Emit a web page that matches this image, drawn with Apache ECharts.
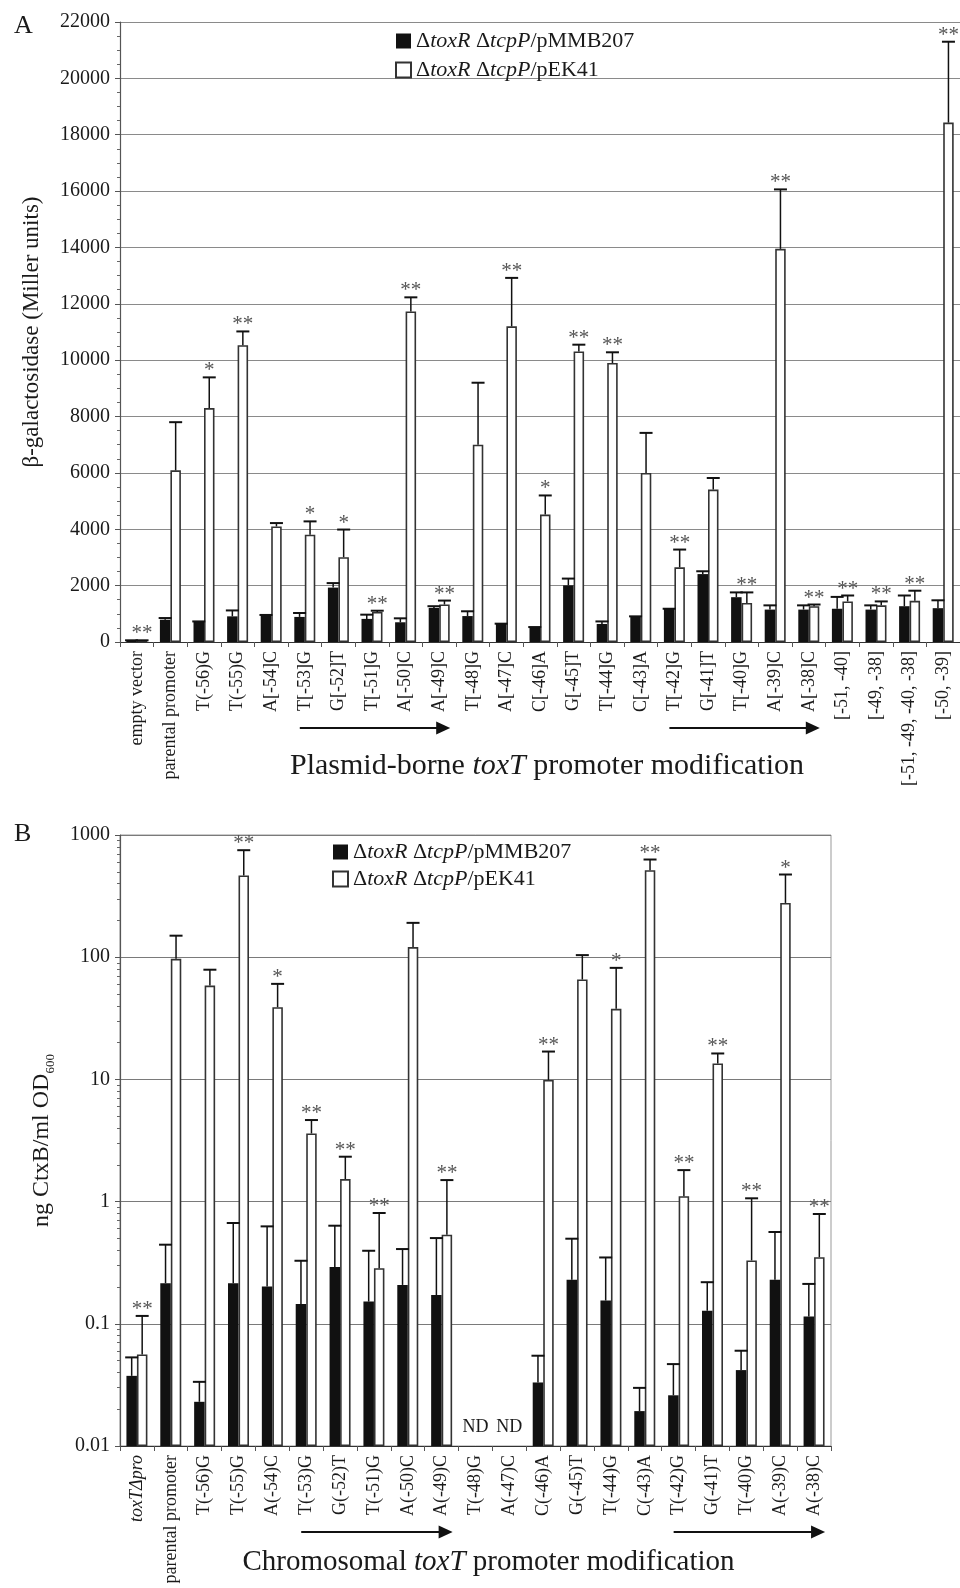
<!DOCTYPE html>
<html>
<head>
<meta charset="utf-8">
<script src="https://cdn.jsdelivr.net/npm/echarts@6/dist/echarts.min.js"></script>
<style>
html,body{margin:0;padding:0;background:#fff;}
#main{width:960px;height:1588px;}
</style>
</head>
<body>
<div id="main"></div>
<script>
// ---------- Panel A data (β-galactosidase, Miller units) ----------
const catsA = ['empty vector','parental promoter','T(-56)G','T(-55)G','A[-54]C','T[-53]G','G[-52]T','T[-51]G','A[-50]C','A[-49]C','T[-48]G','A[-47]C','C[-46]A','G[-45]T','T[-44]G','C[-43]A','T[-42]G','G[-41]T','T[-40]G','A[-39]C','A[-38]C','[-51, -40]','[-49, -38]','[-51, -49, -40, -38]','[-50, -39]'];
const aBlack    = [60, 790, 710, 910, 960, 890, 1930, 820, 700, 1210, 920, 650, 530, 2010, 640, 910, 1180, 2410, 1590, 1150, 1150, 1180, 1150, 1270, 1200];
const aBlackErr = [60, 850, 730, 1120, 960, 1030, 2090, 970, 840, 1270, 1090, 650, 530, 2250, 730, 910, 1180, 2510, 1760, 1300, 1300, 1600, 1300, 1650, 1480];
const aWhite    = [60, 6090, 8300, 10530, 4100, 3810, 3010, 1065, 11730, 1330, 7000, 11200, 4520, 10310, 9900, 6000, 2650, 5410, 1385, 13950, 1270, 1440, 1300, 1460, 18430];
const aWhiteErr = [60, 7800, 9390, 11020, 4220, 4280, 3990, 1110, 12230, 1470, 9200, 12920, 5200, 10550, 10280, 7420, 3280, 5820, 1760, 16060, 1330, 1650, 1440, 1820, 21300];
const aStars    = ['**','','*','**','','*','*','**','**','**','','**','*','**','**','','**','','**','**','**','**','**','**','**'];
const aTicks    = [0, 22000, 2000];

// ---------- Panel B data (ng CtxB/ml OD600) ----------
const catsB = ['toxTΔpro','parental promoter','T(-56)G','T(-55)G','A(-54)C','T(-53)G','G(-52)T','T(-51)G','A(-50)C','A(-49)C','T(-48)G','A(-47)C','C(-46)A','G(-45)T','T(-44)G','C(-43)A','T(-42)G','G(-41)T','T(-40)G','A(-39)C','A(-38)C'];
const bBlack    = [0.0375, 0.215, 0.023, 0.215, 0.202, 0.145, 0.291, 0.152, 0.208, 0.172, null, null, 0.0331, 0.229, 0.155, 0.0193, 0.026, 0.128, 0.0418, 0.229, 0.1146];
const bBlackErr = [0.0531, 0.444, 0.0335, 0.668, 0.627, 0.328, 0.635, 0.396, 0.409, 0.503, null, null, 0.0548, 0.497, 0.349, 0.0299, 0.0468, 0.219, 0.0602, 0.564, 0.212];
const bWhite    = [0.0562, 97, 58.6, 466, 39, 3.61, 1.53, 0.285, 121, 0.536, null, null, 9.9, 65.7, 37.8, 515, 1.106, 13.5, 0.33, 278, 0.351];
const bWhiteErr = [0.116, 150, 79, 751, 60.5, 4.65, 2.33, 0.807, 191, 1.5, null, null, 16.9, 104, 81.8, 630, 1.81, 16.3, 1.064, 475, 0.792];
const bStars    = ['**','','','**','*','**','**','**','','**','','','**','','*','**','**','**','**','*','**'];
const bNotDetected = ['','','','','','','','','','','ND','ND','','','','','','','','',''];
const bRange    = [0.01, 1000];

// arrow spans (category indices)
const arrowsA = [[5, 9], [16, 20]];
const arrowsB = [[5, 9], [16, 20]];

const FONT = '"Liberation Serif", "Times New Roman", "DejaVu Serif", serif';
const TXT = '#1a1a1a';
const BW = 10.5;

function errData(vals, errs) {
  const out = [];
  vals.forEach((v, i) => { if (v != null) out.push([i, v, errs[i]]); });
  return out;
}
function errRender(offset, stars) {
  return function (params, api) {
    const i = api.value(0);
    const base = api.coord([i, api.value(1)]);
    const top = api.coord([i, api.value(2)]);
    const x = base[0] + offset;
    const children = [
      {type: 'line', shape: {x1: x, y1: base[1], x2: x, y2: top[1]}, style: {stroke: '#111', lineWidth: 1.5}},
      {type: 'line', shape: {x1: x - 6.5, y1: top[1], x2: x + 6.5, y2: top[1]}, style: {stroke: '#111', lineWidth: 2}}
    ];
    if (stars && stars[i]) {
      children.push({type: 'text', style: {x: x, y: top[1] + 4, text: stars[i], align: 'center', verticalAlign: 'bottom',
        font: '21px ' + FONT, fill: '#555'}});
    }
    return {type: 'group', children: children};
  };
}
function ndRender(params, api) {
  const i = api.value(0);
  const p = api.coord([i, api.value(1)]);
  return {type: 'text', style: {x: p[0], y: p[1], text: bNotDetected[i], align: 'center', verticalAlign: 'middle',
    font: '18px ' + FONT, fill: TXT}};
}

const legendNames = {
  'pMMB207': '{n|Δ}{i|toxR}{n| Δ}{i|tcpP}{n|/pMMB207}',
  'pEK41': '{n|Δ}{i|toxR}{n| Δ}{i|tcpP}{n|/pEK41}'
};
const legendRich = {
  n: {fontFamily: FONT, fontSize: 22, color: TXT},
  i: {fontFamily: FONT, fontSize: 22, fontStyle: 'italic', color: TXT}
};
const blackStyle = {color: '#111'};
const whiteStyle = {color: '#fff', borderColor: '#333', borderWidth: 1.6};

const chart = echarts.init(document.getElementById('main'), null, {renderer: 'canvas'});

const option = {
  animation: false,
  backgroundColor: '#fff',
  title: [
    {text: 'A', left: 9, top: 8, textStyle: {fontFamily: FONT, fontSize: 26, fontWeight: 'normal', color: TXT}},
    {text: 'B', left: 9, top: 816, textStyle: {fontFamily: FONT, fontSize: 26, fontWeight: 'normal', color: TXT}}
  ],
  legend: [
    {left: 390, top: 25, orient: 'vertical', itemWidth: 15, itemHeight: 15, itemGap: 7, icon: 'rect', selectedMode: false,
     data: ['A pMMB207', 'A pEK41'], formatter: n => legendNames[n.split(' ')[1]], textStyle: {rich: legendRich}},
    {left: 327, top: 836, orient: 'vertical', itemWidth: 15, itemHeight: 15, itemGap: 5, icon: 'rect', selectedMode: false,
     data: ['B pMMB207', 'B pEK41'], formatter: n => legendNames[n.split(' ')[1]], textStyle: {rich: legendRich}}
  ],
  grid: [
    {left: 120, top: 22, width: 840, height: 620, show: false, outerBoundsMode: 'none', containLabel: false},
    {left: 120, top: 835, width: 711, height: 611, show: true, borderColor: '#999', borderWidth: 1, outerBoundsMode: 'none', containLabel: false}
  ],
  xAxis: [
    {type: 'category', gridIndex: 0, data: catsA,
     axisLine: {lineStyle: {color: '#333', width: 1.2}},
     axisTick: {show: true, length: 5, lineStyle: {color: '#555'}},
     axisLabel: {interval: 0, rotate: 90, margin: 9, fontFamily: FONT, fontSize: 18, color: TXT},
     name: '{n|Plasmid-borne }{i|toxT}{n| promoter modification}', nameLocation: 'middle', nameGap: 109, nameMoveOverlap: false,
     nameTextStyle: {padding: [0, 0, 0, 14], rich: {n: {fontFamily: FONT, fontSize: 30, color: TXT}, i: {fontFamily: FONT, fontSize: 30, fontStyle: 'italic', color: TXT}}}},
    {type: 'category', gridIndex: 1, data: catsB,
     axisLine: {lineStyle: {color: '#333', width: 1.2}},
     axisTick: {show: true, length: 5, lineStyle: {color: '#555'}},
     axisLabel: {interval: 0, rotate: 90, margin: 9, fontFamily: FONT, fontSize: 18, color: TXT,
       formatter: v => v.indexOf('toxT') === 0 ? '{i|' + v + '}' : v,
       rich: {i: {fontFamily: FONT, fontSize: 18, fontStyle: 'italic', color: TXT}}},
     name: '{n|Chromosomal }{i|toxT}{n| promoter modification}', nameLocation: 'middle', nameGap: 102, nameMoveOverlap: false,
     nameTextStyle: {padding: [0, 0, 0, 26], rich: {n: {fontFamily: FONT, fontSize: 29, color: TXT}, i: {fontFamily: FONT, fontSize: 29, fontStyle: 'italic', color: TXT}}}}
  ],
  yAxis: [
    {type: 'value', gridIndex: 0, min: aTicks[0], max: aTicks[1], interval: aTicks[2],
     axisLine: {show: true, lineStyle: {color: '#555', width: 1.2}},
     axisTick: {show: true, length: 5, lineStyle: {color: '#555'}},
     minorTick: {show: true, splitNumber: 4, length: 3, lineStyle: {color: '#666'}},
     splitLine: {show: true, lineStyle: {color: '#8a8a8a', width: 1.2}},
     axisLabel: {margin: 10, fontFamily: FONT, fontSize: 20, color: TXT, formatter: v => String(v)},
     name: 'β-galactosidase (Miller units)', nameLocation: 'middle', nameGap: 77, nameMoveOverlap: false,
     nameTextStyle: {fontFamily: FONT, fontSize: 23, color: TXT}},
    {type: 'log', gridIndex: 1, logBase: 10, min: bRange[0], max: bRange[1], startValue: bRange[0],
     axisLine: {show: true, lineStyle: {color: '#555', width: 1.2}},
     axisTick: {show: true, length: 5, lineStyle: {color: '#555'}},
     minorTick: {show: true, splitNumber: 9, length: 3, lineStyle: {color: '#666'}},
     splitLine: {show: true, lineStyle: {color: '#7a7a7a', width: 1.2}},
     axisLabel: {margin: 10, fontFamily: FONT, fontSize: 20, color: TXT, formatter: v => String(+(+v).toPrecision(3))},
     name: '{n|ng CtxB/ml OD}{s|600}', nameLocation: 'middle', nameGap: 63, nameMoveOverlap: false,
     nameTextStyle: {rich: {n: {fontFamily: FONT, fontSize: 24, color: TXT, lineHeight: 30, verticalAlign: 'middle'},
                            s: {fontFamily: FONT, fontSize: 13, color: TXT, lineHeight: 30, verticalAlign: 'bottom'}}}}
  ],
  series: [
    {name: 'A pMMB207', type: 'bar', xAxisIndex: 0, yAxisIndex: 0, data: aBlack, barWidth: BW, barGap: '0%', itemStyle: blackStyle},
    {name: 'A pEK41', type: 'bar', xAxisIndex: 0, yAxisIndex: 0, data: aWhite, barWidth: BW, barGap: '0%', itemStyle: whiteStyle},
    {type: 'custom', xAxisIndex: 0, yAxisIndex: 0, data: errData(aBlack, aBlackErr), renderItem: errRender(-BW / 2, null), z: 5},
    {type: 'custom', xAxisIndex: 0, yAxisIndex: 0, data: errData(aWhite, aWhiteErr), renderItem: errRender(BW / 2, aStars), z: 5},
    {name: 'B pMMB207', type: 'bar', xAxisIndex: 1, yAxisIndex: 1, data: bBlack, barWidth: BW, barGap: '0%', itemStyle: blackStyle},
    {name: 'B pEK41', type: 'bar', xAxisIndex: 1, yAxisIndex: 1, data: bWhite, barWidth: BW, barGap: '0%', itemStyle: whiteStyle},
    {type: 'custom', xAxisIndex: 1, yAxisIndex: 1, data: errData(bBlack, bBlackErr), renderItem: errRender(-BW / 2, null), z: 5},
    {type: 'custom', xAxisIndex: 1, yAxisIndex: 1, data: errData(bWhite, bWhiteErr), renderItem: errRender(BW / 2, bStars), z: 5},
    {type: 'custom', xAxisIndex: 1, yAxisIndex: 1, silent: true, renderItem: ndRender,
     data: bNotDetected.map((t, i) => t ? [i, 0.0142] : null).filter(d => d)}
  ]
};
chart.setOption(option);

function arrowGraphics(spans, xIdx, yIdx, yBase) {
  const y = chart.convertToPixel({yAxisIndex: yIdx}, yBase) + 86;
  const els = [];
  spans.forEach(s => {
    const x1 = chart.convertToPixel({xAxisIndex: xIdx}, s[0]) - 5;
    const x2 = chart.convertToPixel({xAxisIndex: xIdx}, s[1]) + 11;
    els.push({type: 'line', shape: {x1: x1, y1: y, x2: x2 - 12, y2: y}, style: {stroke: '#111', lineWidth: 2}});
    els.push({type: 'polygon', shape: {points: [[x2 - 14, y - 6.5], [x2, y], [x2 - 14, y + 6.5]]}, style: {fill: '#111'}});
  });
  return els;
}
chart.setOption({graphic: arrowGraphics(arrowsA, 0, 0, aTicks[0]).concat(arrowGraphics(arrowsB, 1, 1, bRange[0]))});
</script>
</body>
</html>
